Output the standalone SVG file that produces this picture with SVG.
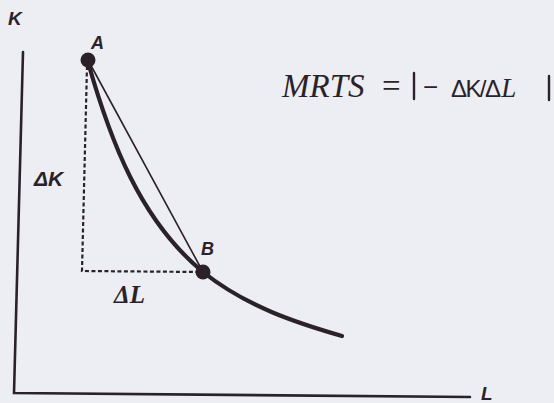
<svg xmlns="http://www.w3.org/2000/svg" width="554" height="403" viewBox="0 0 554 403">
<style>
.ink{stroke:#2b2229;fill:none;stroke-linecap:round}
.axis{stroke-width:2.6}
.dash{stroke-width:2.2;stroke-dasharray:4 2.5;stroke-linecap:butt}
.curve{stroke-width:4.2}
.chord{stroke-width:1.6}
.lbl{font-family:"Liberation Sans",Arial,sans-serif;font-weight:bold;font-style:italic;fill:#2b2229}
.ser{font-family:"Liberation Serif","Times New Roman",serif;fill:#2b2229}
.pt{fill:#2b2229}
</style>
<rect width="554" height="403" fill="#eceef3"/>
<g id="axes">
<path class="ink axis" d="M23,52 L14,393 L470,397"/>
<text class="lbl" x="8" y="25" font-size="19">K</text>
<text class="lbl" x="481" y="400" font-size="19">L</text>
</g>
<g id="connectors">
<path class="ink dash" d="M87,66 L82,271 L200,272"/>
<path class="ink chord" d="M88,60 L203,272"/>
<path class="ink curve" d="M88,62 C110,140 140,220 203,272 C247,307 297,323 342,336"/>
</g>
<g id="pointA">
<circle class="pt" cx="88" cy="60" r="7.5"/>
<text class="lbl" x="91" y="49" font-size="18">A</text>
</g>
<g id="pointB">
<circle class="pt" cx="203" cy="272" r="7.5"/>
<text class="lbl" x="201" y="255" font-size="18">B</text>
</g>
<g id="deltaK">
<text class="lbl" x="34" y="186" font-size="21">ΔK</text>
</g>
<g id="deltaL">
<text class="ser" x="114" y="303" font-size="25" font-weight="bold" font-style="italic">ΔL</text>
</g>
<g id="formula">
<text class="ser" x="282" y="97" font-size="33" font-style="italic">MRTS</text>
<text class="ser" x="382" y="97" font-size="33">=</text>
<path class="ink" stroke-width="2.4" d="M414,73 V99"/>
<text font-family="Liberation Sans,Arial,sans-serif" font-size="26" fill="#2b2229" x="423" y="96">−</text>
<text font-family="Liberation Sans,Arial,sans-serif" font-size="24" fill="#2b2229" x="451" y="97" letter-spacing="-1.6">ΔK/Δ<tspan font-family="Liberation Serif,Times New Roman,serif" font-style="italic" font-size="27" letter-spacing="0" dx="2">L</tspan></text>
<path class="ink" stroke-width="2.4" d="M549,76 V100"/>
</g>
</svg>
